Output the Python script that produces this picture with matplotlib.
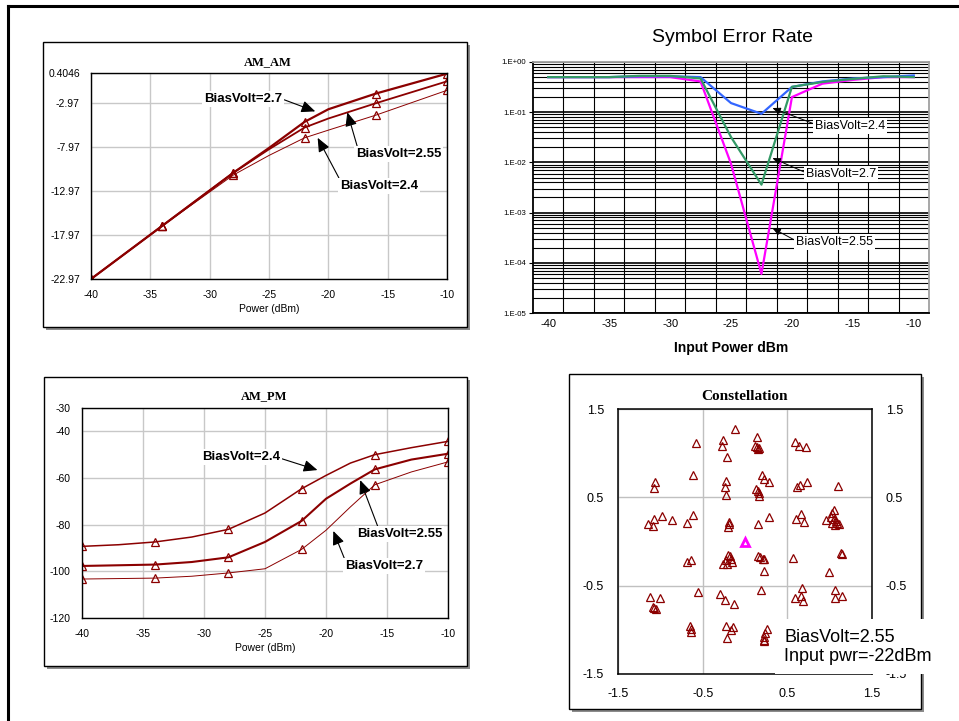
import matplotlib.pyplot as plt
import numpy as np
from matplotlib.patches import Rectangle
from matplotlib.lines import Line2D
from matplotlib.ticker import LogLocator, NullFormatter, FixedLocator

plt.rcParams['font.family'] = ['Liberation Sans', 'DejaVu Sans']
plt.rcParams['axes.unicode_minus'] = False

W, H = 959, 721
RED = '#8b0000'

# ---- AM_AM data (output dB vs input power dBm)
amam_x = [-40, -34, -28, -25, -22, -20, -16, -10]
amam_27 = [-22.97, -16.94, -10.91, -8.10, -5.14, -3.71, -1.93, 0.33]
amam_255 = [-22.97, -16.94, -10.91, -8.25, -5.78, -4.76, -3.03, -0.54]
amam_24 = [-22.97, -16.94, -11.17, -8.95, -6.95, -6.08, -4.38, -1.56]
amam_marks = [0, 1, 2, 4, 6, 7]
amam_yticks = [0.4046, -2.97, -7.97, -12.97, -17.97, -22.97]

# ---- AM_PM data (phase deg)
ampm_x = [-40, -37, -34, -31, -28, -25, -22, -20, -18, -16, -13, -10]
ampm_24 = [-89.3, -88.6, -87.4, -85.3, -82.0, -75.0, -64.6, -58.9, -53.6, -50.0, -47.0, -44.3]
ampm_255 = [-97.7, -97.4, -97.1, -96.0, -94.0, -87.4, -78.4, -68.9, -62.4, -56.3, -52.1, -49.6]
ampm_27 = [-103.3, -103.1, -102.9, -102.1, -100.7, -98.9, -90.6, -82.4, -72.4, -62.9, -57.4, -53.1]
ampm_marks = [0, 2, 4, 6, 9, 11]
ampm_yticks = [-120, -100, -80, -60, -40, -30]

# ---- Symbol error rate
ser_x = [-40, -37.5, -35, -32.5, -30, -27.5, -25, -22.5, -20, -17.5, -15, -12.5, -10]
ser_24 = [0.5, 0.5, 0.5, 0.52, 0.52, 0.5, 0.152, 0.093, 0.318, 0.41, 0.47, 0.5, 0.54]
ser_27 = [0.5, 0.5, 0.5, 0.53, 0.53, 0.47, 0.032, 0.0036, 0.32, 0.40, 0.46, 0.52, 0.5]
ser_255 = [0.5, 0.5, 0.5, 0.5, 0.5, 0.41, 0.0094, 6e-5, 0.2, 0.37, 0.44, 0.5, 0.5]
ser_ylabels = ['1.E-05', '1.E-04', '1.E-03', '1.E-02', '1.E-01', '1.E+00']

# ---- Constellation (I, Q)
const_i = [-0.12, -0.58, -0.26, -0.27, -0.21, 0.14, 0.12, 0.14, 0.15, 0.16, 0.59, 0.64, 0.72,
           -1.06, -1.08, -0.61, -0.23, -0.24, -0.22, 0.20, 0.23, 0.28, 0.13, 0.15, 0.16, 0.17,
           0.62, 0.65, 0.73, 1.10,
           -1.15, -1.09, -1.07, -0.98, -0.86, -0.68, -0.61, -0.19, -0.19, -0.20, 0.15, 0.28,
           0.60, 0.66, 0.70, 0.96, 1.05, 1.03, 1.02, 1.05, 1.07, 1.09, 1.11, 1.03, 1.06,
           -0.69, -0.64, -0.20, -0.18, -0.16, -0.22, -0.26, -0.21, -0.15, 0.15, 0.18, 0.21, 0.22,
           0.22, 0.57, 0.99, 1.13, 1.14,
           -1.12, -1.00, -1.09, -1.07, -1.05, -0.55, -0.30, -0.24, -0.13, 0.19, 0.67, 0.59, 0.66,
           0.68, 1.06, 1.06, 1.15,
           -0.65, -0.64, -0.64, -0.23, -0.17, -0.14, -0.21, 0.26, 0.24, 0.23, 0.22, 0.23]
const_q = [1.27, 1.12, 1.15, 1.08, 0.96, 1.18, 1.08, 1.07, 1.05, 1.06, 1.13, 1.08, 1.07,
           0.67, 0.61, 0.75, 0.69, 0.62, 0.53, 0.75, 0.71, 0.67, 0.59, 0.57, 0.55, 0.52,
           0.62, 0.64, 0.67, 0.63,
           0.20, 0.17, 0.25, 0.29, 0.24, 0.21, 0.30, 0.22, 0.20, 0.16, 0.20, 0.28,
           0.26, 0.31, 0.22, 0.24, 0.36, 0.32, 0.28, 0.26, 0.23, 0.21, 0.20, 0.21, 0.19,
           -0.23, -0.21, -0.15, -0.16, -0.20, -0.21, -0.25, -0.25, -0.23, -0.16, -0.18, -0.20, -0.20,
           -0.33, -0.19, -0.35, -0.13, -0.14,
           -0.63, -0.64, -0.74, -0.75, -0.76, -0.57, -0.59, -0.66, -0.71, -0.55, -0.53, -0.64, -0.62,
           -0.67, -0.55, -0.64, -0.62,
           -0.96, -0.99, -1.02, -0.96, -1.00, -0.97, -1.09, -0.99, -1.04, -1.08, -1.11, -1.13]
ideal_i = [0.0]
ideal_q = [0.0]


def fr(x0, y0, x1, y1):
    return [x0 / W, 1 - y1 / H, (x1 - x0) / W, (y1 - y0) / H]


def fp(x, y):
    return (x / W, 1 - y / H)


fig = plt.figure(figsize=(W / 100, H / 100), dpi=100)


def panel_box(x0, y0, x1, y1):
    r = fr(x0, y0, x1, y1)
    fig.patches.append(Rectangle((r[0] + 3 / W, r[1] - 3 / H), r[2], r[3], transform=fig.transFigure,
                                 fc='#8c8c8c', ec='none', zorder=-3))
    fig.patches.append(Rectangle((r[0], r[1]), r[2], r[3], transform=fig.transFigure,
                                 fc='white', ec='black', lw=1.0, zorder=-2))


# page frame
fig.add_artist(Line2D([8 / W, 8 / W], [0, 1 - 6 / H], transform=fig.transFigure, color='black', lw=2.2))
fig.add_artist(Line2D([8 / W, 1], [1 - 6 / H, 1 - 6 / H], transform=fig.transFigure, color='black', lw=2.2))

serif = ['Liberation Serif', 'DejaVu Serif']
big_arrow = dict(arrowstyle='-|>,head_length=0.7,head_width=0.3', mutation_scale=12, lw=0.8,
                 color='black', shrinkA=0, shrinkB=0)
lbl_box = dict(fc='white', ec='none', pad=1.5)


def style_am(ax):
    ax.grid(True, color='#c8c8c8', lw=1.0)
    ax.set_axisbelow(True)
    ax.tick_params(length=0, labelsize=7.5, pad=8)
    for s in ax.spines.values():
        s.set_color('black')
        s.set_linewidth(1.0)


# ---------------- AM_AM
panel_box(43, 42, 467, 327)
ax1 = fig.add_axes(fr(91, 73, 447, 279))
ax1.plot(amam_x, amam_27, color=RED, lw=1.6, marker='^', mfc='none', ms=5.5, mew=0.9, markevery=amam_marks)
ax1.plot(amam_x, amam_255, color=RED, lw=1.3, marker='^', mfc='none', ms=5.5, mew=0.9, markevery=amam_marks)
ax1.plot(amam_x, amam_24, color=RED, lw=0.7, marker='^', mfc='none', ms=5.5, mew=0.9, markevery=amam_marks)
ax1.set_xlim(-40, -10)
ax1.set_ylim(-22.97, 0.4046)
ax1.set_xticks(range(-40, -9, 5))
ax1.set_yticks(amam_yticks)
ax1.set_yticklabels(['0.4046', '-2.97', '-7.97', '-12.97', '-17.97', '-22.97'])
style_am(ax1)
ax1.set_xlabel('Power (dBm)', fontsize=7.5, labelpad=3)
fig.text(*fp(268, 62), 'AM_AM', ha='center', va='center', family=serif, fontweight='bold', fontsize=9)

ax1.annotate('BiasVolt=2.7', xy=(-21.1, -3.95), xytext=fp(204, 99), textcoords='figure fraction',
             ha='left', va='center', fontsize=9.5, fontweight='bold', bbox=lbl_box,
             arrowprops=dict(big_arrow, relpos=(1, 0.5)), annotation_clip=False, zorder=5)
ax1.annotate('BiasVolt=2.55', xy=(-18.4, -4.05), xytext=fp(356, 154), textcoords='figure fraction',
             ha='left', va='center', fontsize=9.5, fontweight='bold', bbox=lbl_box,
             arrowprops=dict(big_arrow, relpos=(0.02, 1)), annotation_clip=False, zorder=5)
ax1.annotate('BiasVolt=2.4', xy=(-20.9, -6.95), xytext=fp(340, 186), textcoords='figure fraction',
             ha='left', va='center', fontsize=9.5, fontweight='bold', bbox=lbl_box,
             arrowprops=dict(big_arrow, relpos=(0, 1)), annotation_clip=False, zorder=5)

# ---------------- AM_PM
panel_box(44, 377, 467, 666)
ax2 = fig.add_axes(fr(82, 408, 448, 618))
ax2.plot(ampm_x, ampm_24, color=RED, lw=1.1, marker='^', mfc='none', ms=5.5, mew=0.9, markevery=ampm_marks)
ax2.plot(ampm_x, ampm_255, color=RED, lw=1.5, marker='^', mfc='none', ms=5.5, mew=0.9, markevery=ampm_marks)
ax2.plot(ampm_x, ampm_27, color=RED, lw=0.7, marker='^', mfc='none', ms=5.5, mew=0.9, markevery=ampm_marks)
ax2.set_xlim(-40, -10)
ax2.set_ylim(-120, -30)
ax2.set_xticks(range(-40, -9, 5))
ax2.set_yticks(ampm_yticks)
style_am(ax2)
ax2.set_xlabel('Power (dBm)', fontsize=7.5, labelpad=3)
fig.text(*fp(264, 396), 'AM_PM', ha='center', va='center', family=serif, fontweight='bold', fontsize=9)

ax2.annotate('BiasVolt=2.4', xy=(-20.7, -56.6), xytext=fp(202, 457), textcoords='figure fraction',
             ha='left', va='center', fontsize=9.5, fontweight='bold', bbox=lbl_box,
             arrowprops=dict(big_arrow, relpos=(1, 0.4)), annotation_clip=False, zorder=5)
ax2.annotate('BiasVolt=2.55', xy=(-17.2, -60.9), xytext=fp(357, 534), textcoords='figure fraction',
             ha='left', va='center', fontsize=9.5, fontweight='bold', bbox=lbl_box,
             arrowprops=dict(big_arrow, relpos=(0.25, 1)), annotation_clip=False, zorder=5)
ax2.annotate('BiasVolt=2.7', xy=(-19.4, -82.7), xytext=fp(345, 566), textcoords='figure fraction',
             ha='left', va='center', fontsize=9.5, fontweight='bold', bbox=lbl_box,
             arrowprops=dict(big_arrow, relpos=(0, 1)), annotation_clip=False, zorder=5)

# ---------------- Symbol Error Rate
ax3 = fig.add_axes(fr(533, 62, 929, 313))
ax3.plot(ser_x, ser_255, color='#ff00ff', lw=1.6, zorder=3)
ax3.plot(ser_x, ser_24, color='#3366ff', lw=1.6, zorder=3)
ax3.plot(ser_x, ser_27, color='#339966', lw=1.6, zorder=3)
ax3.set_yscale('log')
ax3.set_ylim(1e-5, 1)
ax3.set_xlim(-41.25, -8.75)
ax3.set_xticks(range(-40, -9, 5))
ax3.xaxis.set_minor_locator(FixedLocator(np.arange(-38.75, -9, 2.5)))
ax3.set_yticks([1e-5, 1e-4, 1e-3, 1e-2, 1e-1, 1])
ax3.set_yticklabels(ser_ylabels)
ax3.yaxis.set_minor_locator(LogLocator(base=10, subs=np.arange(2, 10)))
ax3.yaxis.set_minor_formatter(NullFormatter())
ax3.grid(True, which='minor', color='black', lw=0.8)
ax3.grid(True, which='major', axis='y', color='black', lw=1.2)
ax3.tick_params(axis='x', which='both', length=0, labelsize=8, pad=4)
ax3.tick_params(axis='y', which='major', length=3, labelsize=5.6, pad=2)
ax3.tick_params(axis='y', which='minor', length=0)
ax3.spines['left'].set_color('black')
ax3.spines['bottom'].set_color('black')
ax3.spines['top'].set_color('#a0a0a0')
ax3.spines['right'].set_color('#a0a0a0')
for s in ax3.spines.values():
    s.set_linewidth(1.3)
ax3.set_xlabel('Input Power dBm', fontsize=10, fontweight='bold', labelpad=9)
fig.text(*fp(732, 38), 'Symbol Error Rate', ha='center', va='center', fontsize=14)

small_arrow = dict(arrowstyle='-|>,head_length=0.6,head_width=0.25', mutation_scale=8, lw=0.7,
                   color='black', shrinkA=0, shrinkB=0)
ax3.annotate('BiasVolt=2.4', xy=(-21.6, 0.121), xytext=fp(815, 126), textcoords='figure fraction',
             ha='left', va='center', fontsize=9, bbox=lbl_box,
             arrowprops=dict(small_arrow, relpos=(0, 0.65)), annotation_clip=False, zorder=5)
ax3.annotate('BiasVolt=2.7', xy=(-21.6, 0.0122), xytext=fp(806, 174), textcoords='figure fraction',
             ha='left', va='center', fontsize=9, bbox=lbl_box,
             arrowprops=dict(small_arrow, relpos=(0, 0.6)), annotation_clip=False, zorder=5)
ax3.annotate('BiasVolt=2.55', xy=(-21.6, 4.9e-4), xytext=fp(796, 242), textcoords='figure fraction',
             ha='left', va='center', fontsize=9, bbox=lbl_box,
             arrowprops=dict(small_arrow, relpos=(0, 0.6)), annotation_clip=False, zorder=5)

# ---------------- Constellation
panel_box(569, 374, 921, 709)
ax4 = fig.add_axes(fr(618, 409, 872, 674))
ax4.plot(const_i, const_q, ls='none', marker='^', mfc='none', mec=RED, ms=6, mew=0.9)
ax4.plot(ideal_i, ideal_q, ls='none', marker='^', mfc='none', mec='#ff00ff', ms=6, mew=2.0)
ax4.set_xlim(-1.5, 1.5)
ax4.set_ylim(-1.5, 1.5)
ax4.set_xticks([-1.5, -0.5, 0.5, 1.5])
ax4.set_yticks([-1.5, -0.5, 0.5, 1.5])
ax4.set_xticklabels(['-1.5', '-0.5', '0.5', '1.5'])
ax4.set_yticklabels(['-1.5', '-0.5', '0.5', '1.5'])
ax4.grid(True, color='#c0c0c0', lw=1.0)
ax4.set_axisbelow(True)
ax4.tick_params(length=0, labelsize=9, pad=10, labelright=True)
for s in ax4.spines.values():
    s.set_color('black')
    s.set_linewidth(1.1)
fig.text(*fp(745, 397), 'Constellation', ha='center', va='center', family=serif, fontweight='bold', fontsize=11)

r = fr(775, 619, 940, 674)
fig.patches.append(Rectangle((r[0], r[1]), r[2], r[3], transform=fig.transFigure, fc='white', ec='none', zorder=5))
fig.text(*fp(784, 647), 'BiasVolt=2.55\nInput pwr=-22dBm', ha='left', va='center', fontsize=13,
         linespacing=1.15, zorder=6)

fig.savefig('out.png', dpi=100)
